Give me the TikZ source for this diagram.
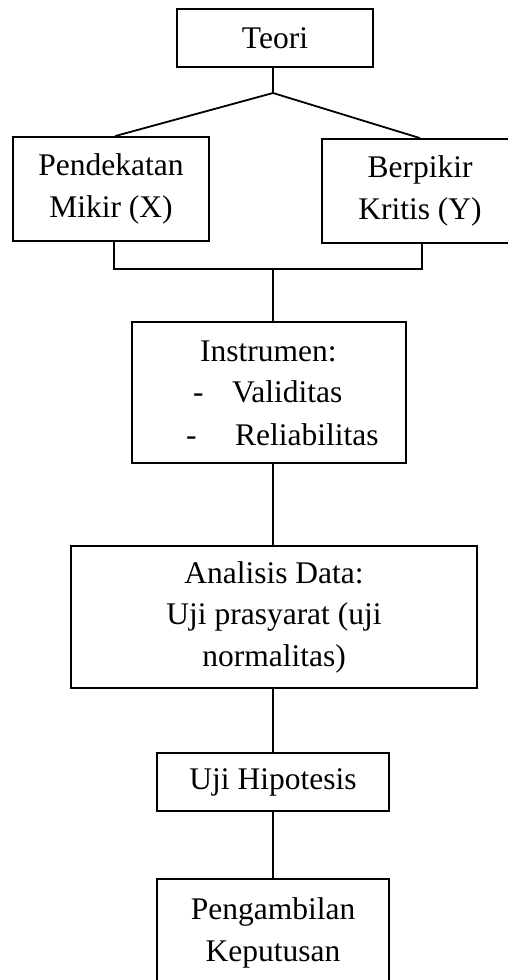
\documentclass[tikz,border=0pt]{standalone}
\usepackage{fontspec}
\setmainfont{Liberation Serif}
\begin{document}
\begin{tikzpicture}[x=1pt,y=-1pt,
  box/.style={draw, line width=1.8pt, inner sep=0pt, align=center,
    font=\fontsize{31.5}{41.5}\selectfont},
  txt/.style={inner sep=0pt, font=\fontsize{31.5}{41.5}\selectfont},
  conn/.style={line width=1.8pt}]
\clip (0,0) rectangle (508,980);
\fill[white] (0,0) rectangle (508,980);
% boxes
\node[box, minimum width=196, minimum height=58] (teori) at (275,38) {Teori};
\node[box, minimum width=196, minimum height=104] (pend) at (111,189) {Pendekatan\\Mikir (X)};
\node[box, minimum width=196, minimum height=104] (berp) at (420,191) {Berpikir\\Kritis (Y)};
\node[box, minimum width=274, minimum height=141] (instr) at (269,392.5) {};
\node[txt, anchor=base west] (instrT) at (200,361) {Instrumen:};
\node[txt, anchor=base west] (d1) at (193,402) {-};
\node[txt, anchor=base west] (valid) at (232,402) {Validitas};
\node[txt, anchor=base west] (d2) at (186,445) {-};
\node[txt, anchor=base west] (relia) at (235,445) {Reliabilitas};
\node[box, minimum width=406, minimum height=142] (anal) at (274,617) {Analisis Data:\\Uji prasyarat (uji\\normalitas)};
\node[box, minimum width=232, minimum height=58] (uji) at (273,782) {Uji Hipotesis};
\node[box, minimum width=232, minimum height=108] (peng) at (273,933) {Pengambilan\\Keputusan};
% connectors
\coordinate (J) at (273,93);
\draw[conn] (teori.south -| J) -- (J);
\draw[conn] (J) -- ([xshift=4pt]pend.north);
\draw[conn] (J) -- (berp.north);
\draw[conn] ([xshift=3pt]pend.south) -- ++(0,27) coordinate (bl) -| ([xshift=2pt]berp.south);
\draw[conn] (bl -| J) -- (instr.north -| J);
\draw[conn] (instr.south -| J) -- (anal.north -| J);
\draw[conn] (anal.south -| J) -- (uji.north -| J);
\draw[conn] (uji.south -| J) -- (peng.north -| J);
\end{tikzpicture}
\end{document}
